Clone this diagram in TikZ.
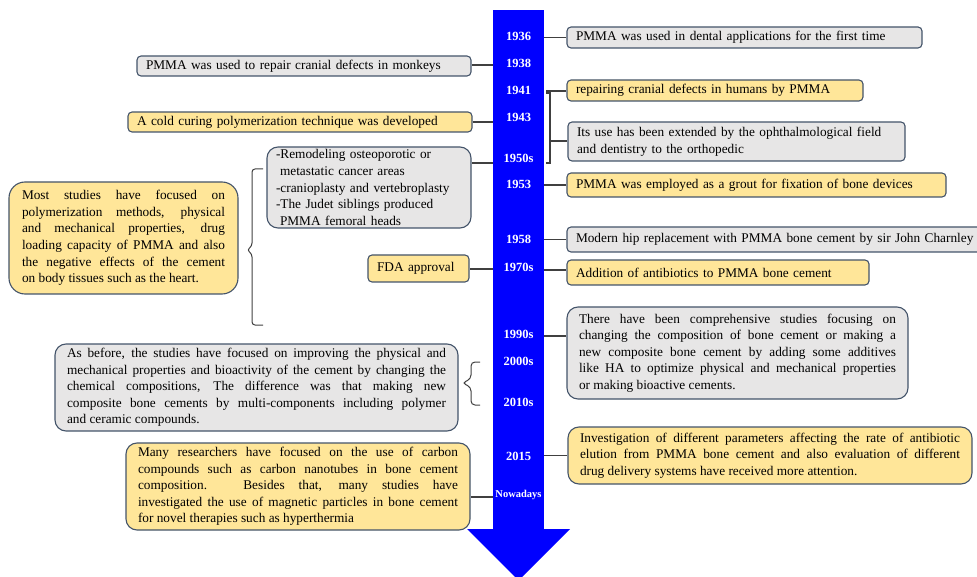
\documentclass[tikz,border=0pt]{standalone}
\usepackage{fontspec}
\setmainfont{Liberation Serif}
\usetikzlibrary{positioning,calc}
\definecolor{ArrowBlue}{RGB}{0,0,255}
\definecolor{CardGray}{RGB}{231,230,230}
\definecolor{CardGold}{RGB}{255,230,153}
\definecolor{CardEdge}{RGB}{68,84,106}
\definecolor{LinkGray}{RGB}{64,64,64}
\tikzset{
  card/.style={draw=CardEdge,line width=1.1pt,rounded corners=4pt,inner xsep=9pt,inner ysep=1pt,
    font=\fontsize{13.3}{16.6}\selectfont,align=left},
  para/.style={card,rounded corners=11pt,inner xsep=12pt,align=justify,
    execute at begin node={\hyphenpenalty=10000\tolerance=9999}},
  grey/.style={fill=CardGray},
  gold/.style={fill=CardGold},
  yr/.style={text=white,inner sep=0pt,font=\bfseries\fontsize{12.5}{13}\selectfont},
  link/.style={draw=LinkGray,line width=1.1pt},
}
\begin{document}
\begin{tikzpicture}[x=1pt,y=-1pt]
\useasboundingbox (0,0) rectangle (977,577);
\fill[ArrowBlue] (493,10) rectangle (544,529);
\fill[ArrowBlue] (467,529) -- (570,529) -- (518.5,580.5) -- cycle;
\coordinate (sl) at (493,0);
\coordinate (sr) at (544,0);
% years
\node[yr] (t36) at (518.5,36) {1936};
\node[yr] (t38) at (518.5,63) {1938};
\node[yr] (t41) at (518.5,90) {1941};
\node[yr] (t43) at (518.5,117) {1943};
\node[yr] (t50) at (518.5,158) {1950s};
\node[yr] (t53) at (518.5,184) {1953};
\node[yr] (t58) at (518.5,239) {1958};
\node[yr] (t70) at (518.5,267) {1970s};
\node[yr] (t90) at (518.5,334) {1990s};
\node[yr] (t00) at (518.5,361) {2000s};
\node[yr] (t10) at (518.5,402) {2010s};
\node[yr] (t15) at (518.5,456) {2015};
\node[yr,font=\bfseries\fontsize{10.5}{11}\selectfont] (tnow) at (518.5,495) {Nowadays};
% right side
\node[card,grey,text width=337pt,minimum height=21pt] (r1) at (744.5,37.5)
  {PMMA was used in dental applications for the first time};
\node[card,gold,text width=278pt,minimum height=21pt] (r2) at (715,90.5)
  {repairing cranial defects in humans by PMMA};
\node[card,grey,text width=319pt,minimum height=39pt] (r3) at (736.5,141.5)
  {Its use has been extended by the ophthalmological field\\and dentistry to the orthopedic};
\node[card,gold,text width=361pt,minimum height=24pt] (r4) at (756.5,185)
  {PMMA was employed as a grout for fixation of bone devices};
\node[card,grey,text width=405pt,minimum height=25pt] (r5) at (778.5,239.5)
  {Modern hip replacement with PMMA bone cement by sir John Charnley};
\node[card,gold,text width=284pt,minimum height=25pt] (r6) at (718,272.5)
  {Addition of antibiotics to PMMA bone cement};
\node[para,grey,text width=317pt,minimum height=92pt] (r7) at (737.5,353)
  {There have been comprehensive studies focusing on\linebreak
   changing the composition of bone cement or making a\linebreak
   new composite bone cement by adding some additives\linebreak
   like HA to optimize physical and mechanical properties\linebreak
   or making bioactive cements.};
\node[para,gold,text width=380pt,minimum height=57pt] (r8) at (770,455.5)
  {Investigation of different parameters affecting the rate of antibiotic\linebreak
   elution from PMMA bone cement and also evaluation of different\linebreak
   drug delivery systems have received more attention.};
% left side
\node[card,grey,text width=316pt,minimum height=20pt] (l1) at (304,66)
  {PMMA was used to repair cranial defects in monkeys};
\node[card,gold,text width=326pt,minimum height=20pt] (l2) at (300,122)
  {A cold curing polymerization technique was developed};
\node[card,grey,rounded corners=11pt,text width=186pt,minimum height=81pt,inner ysep=0pt] (l3) at (369,187.5)
  {-Remodeling osteoporotic or\\\hspace*{4pt}metastatic cancer areas\\-cranioplasty and vertebroplasty\\
   -The Judet siblings produced\\\hspace*{4pt}PMMA femoral heads};
\node[card,gold,text width=83pt,minimum height=27pt] (l4) at (418.5,268.5) {FDA approval};
\node[para,gold,rounded corners=16pt,inner xsep=13pt,text width=203pt,minimum height=112pt] (l5) at (123.5,238)
  {Most studies have focused on\linebreak
   polymerization methods, physical\linebreak
   and mechanical properties, drug\linebreak
   loading capacity of PMMA and also\linebreak
   the negative effects of the cement\linebreak
   on body tissues such as the heart.};
\node[para,grey,text width=379pt,minimum height=87pt] (l6) at (256.5,387.5)
  {As before, the studies have focused on improving the physical and\linebreak
   mechanical properties and bioactivity of the cement by changing the\linebreak
   chemical compositions, The difference was that making new\linebreak
   composite bone cements by multi-components including polymer\linebreak
   and ceramic compounds.};
\node[para,gold,text width=320pt,minimum height=87pt] (l7) at (298,486.5)
  {Many researchers have focused on the use of carbon\linebreak
   compounds such as carbon nanotubes in bone cement\linebreak
   composition. Besides that, many studies have\linebreak
   investigated the use of magnetic particles in bone cement\linebreak
   for novel therapies such as hyperthermia};
% connectors
\draw[link] (r1.west) -- (r1.west -| sr);
\draw[link] (r4.west) -- (r4.west -| sr);
\draw[link] (r5.west) -- (r5.west -| sr);
\coordinate (c70) at (544,270);
\draw[link] (c70) -- (c70 -| r6.west);
\coordinate (c90) at (544,336);
\draw[link] (c90) -- (c90 -| r7.west);
\draw[link] (r8.west) -- (r8.west -| sr);
\coordinate (k0) at (546,91);
\coordinate (k1) at (546,93);
\coordinate (k2) at (546,163);
\coordinate (k3) at (550,141);
\draw[link] (k0) -- (k0 -| r2.west);
\draw[link] (k1) -- ++(4,0) |- (k2);
\draw[link] (k3) -- (k3 -| r3.west);
\coordinate (c38) at (493,65);
\draw[link] (c38) -- (c38 -| l1.east);
\draw[link] (l2.east) -- (l2.east -| sl);
\coordinate (c50) at (493,163);
\draw[link] (c50) -- (c50 -| l3.east);
\coordinate (c70l) at (493,269);
\draw[link] (c70l) -- (c70l -| l4.east);
\coordinate (cnow) at (493,497);
\draw[link] (cnow) -- (cnow -| l7.east);
% braces
\coordinate (bt) at (263,169);
\draw[link,line width=1pt,rounded corners=3pt] (bt) -- ++(-11,0) -- ++(0,77) -- ++(-5,4) -- ++(5,4) -- ++(0,71) -- ++(11,0);
\coordinate (st) at (480,362);
\draw[link,line width=1pt,rounded corners=4pt] (st) -- ++(-9,0) -- ++(0,17) -- ++(-9,4) -- ++(9,4) -- ++(0,18) -- ++(9,0);
\end{tikzpicture}
\end{document}
